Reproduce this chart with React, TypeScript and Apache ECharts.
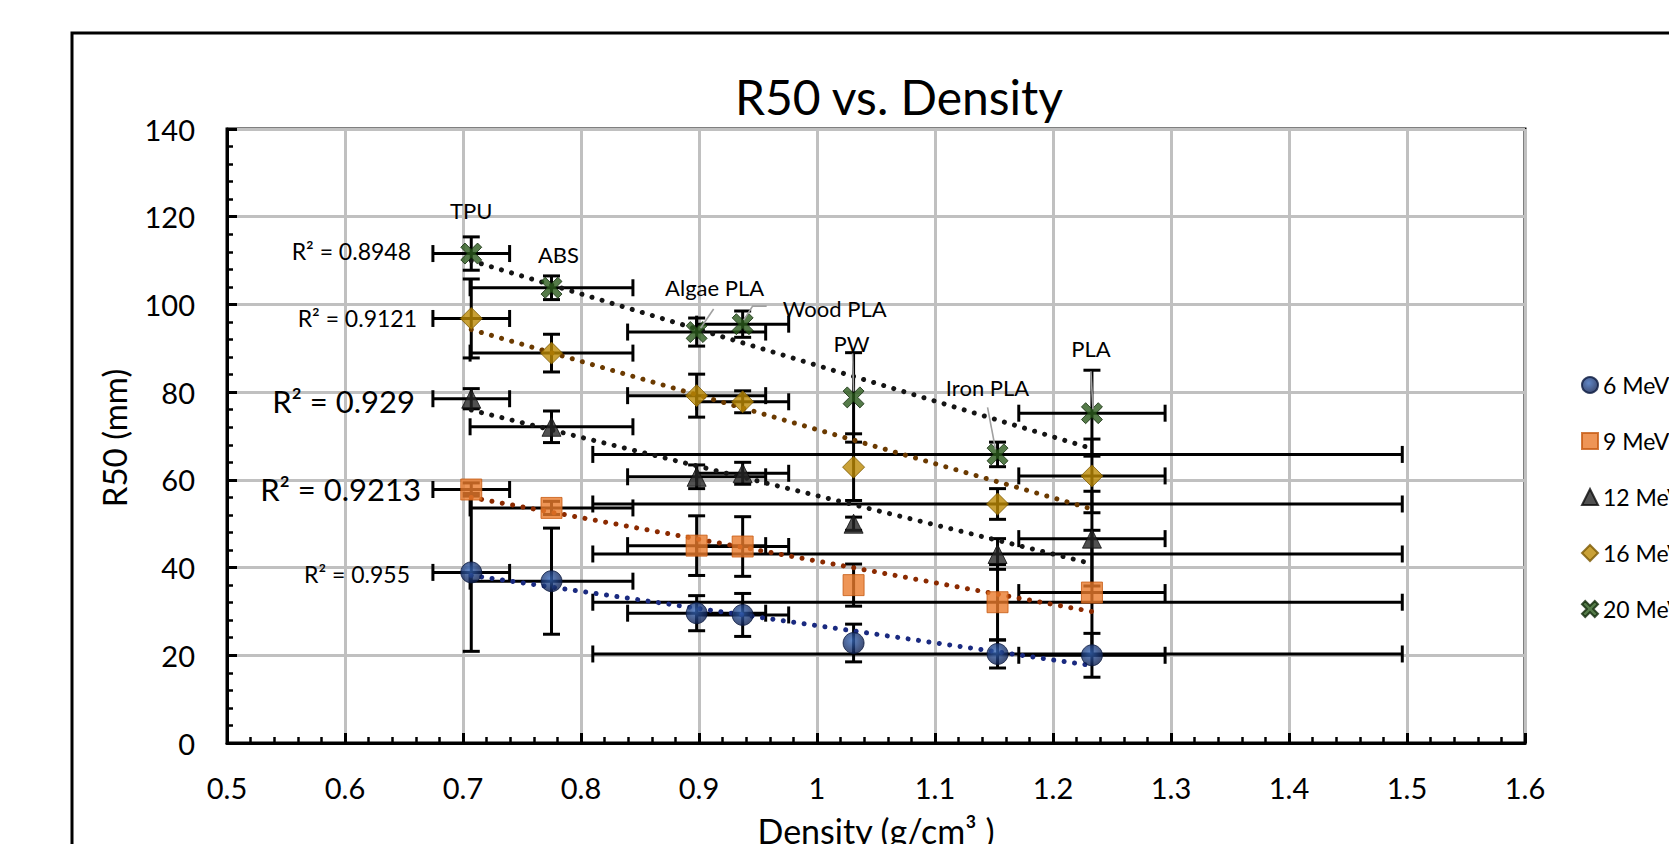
import React, { useEffect, useRef } from 'react';
import * as echarts from 'echarts';

// ---------- data ----------
const materials = ['TPU', 'ABS', 'Algae PLA', 'Wood PLA', 'PW', 'Iron PLA', 'PLA'];
const density = [0.707, 0.775, 0.898, 0.937, 1.031, 1.153, 1.233];
const densityErr = [0.0325, 0.069, 0.0585, 0.039, 0, 0.343, 0.062];

const energies = ['6 MeV', '9 MeV', '12 MeV', '16 MeV', '20 MeV'];

const r50_6MeV = [38.9, 36.9, 29.6, 29.2, 22.8, 20.3, 20.0];
const err_6MeV = [18, 12.1, 4, 4.9, 4.3, 3.2, 5];
const r50_9MeV = [57.8, 53.6, 45.0, 44.8, 36.0, 32.1, 34.3];
const err_9MeV = [1.5, 1.5, 6.8, 6.8, 4.8, 8.6, 14.2];
const r50_12MeV = [78.5, 72.1, 60.7, 61.5, 50.0, 43.1, 46.6];
const err_12MeV = [2.3, 3.6, 2.7, 2.5, 1.5, 3.5, 10.8];
const r50_16MeV = [96.8, 88.9, 79.2, 77.8, 62.9, 54.5, 60.9];
const err_16MeV = [9, 4.3, 4.9, 2.5, 7.6, 3.5, 8.4];
const r50_20MeV = [111.6, 103.8, 93.7, 95.5, 78.8, 65.8, 75.2];
const err_20MeV = [3.8, 2.7, 3.2, 3, 10.2, 2.8, 9.8];

const r2Texts = ['R² = 0.955', 'R² = 0.9213', 'R² = 0.929', 'R² = 0.9121', 'R² = 0.8948'];

const titleText = 'R50 vs. Density';
const xName = 'Density (g/cm³ )';
const yName = 'R50 (mm)';

// ---------- styles / layout ----------
const FONT = 'Lato';
const GRID = { left: 227, top: 129, width: 1298, height: 614 };

const X_CROSS = 'path://M2,0 L5,3 L8,0 L10,2 L7,5 L10,8 L8,10 L5,7 L2,10 L0,8 L3,5 L0,2 Z';

const markerSymbols = ['circle', 'rect', 'triangle', 'diamond', X_CROSS];
const markerSizes = [21, 21, 19, 22, 21];
const trendColors = ['#1a2a80', '#8b2a00', '#151515', '#6b3a00', '#141414'];

const r2Layout = [
  { x: 410, y: 574, size: 23 },
  { x: 421, y: 489, size: 31 },
  { x: 415, y: 401, size: 31 },
  { x: 417, y: 318, size: 23 },
  { x: 411, y: 251, size: 23 },
];

// label offsets (px) relative to the 20 MeV point of each material, with leader lines
const labelLayout: { dx: number; dy: number; line: number[][] | null }[] = [
  { dx: 0, dy: -43, line: null },
  { dx: 7, dy: -33, line: null },
  { dx: 18, dy: -45, line: [[4, -4], [17, -23]] },
  { dx: 92, dy: -16, line: [[24, -18], [10, -18], [1, -4]] },
  { dx: -2, dy: -54, line: [[-1, -44], [0, -6]] },
  { dx: -10, dy: -67, line: [[-10, -47], [-2, -5]] },
  { dx: -1, dy: -65, line: [[-1, -42], [1, -4]] },
];

function linFit(xs: number[], ys: number[]) {
  const n = xs.length;
  const mx = xs.reduce((a, b) => a + b, 0) / n;
  const my = ys.reduce((a, b) => a + b, 0) / n;
  let sxy = 0, sxx = 0;
  for (let i = 0; i < n; i++) {
    sxy += (xs[i] - mx) * (ys[i] - my);
    sxx += (xs[i] - mx) * (xs[i] - mx);
  }
  const b = sxy / sxx;
  const a = my - b * mx;
  return (x: number) => a + b * x;
}

export default function App() {
  const ref = useRef<HTMLDivElement>(null);

  useEffect(() => {
    const chart = echarts.init(ref.current!, null, { renderer: 'svg' });

    const values = [r50_6MeV, r50_9MeV, r50_12MeV, r50_16MeV, r50_20MeV];
    const errs = [err_6MeV, err_9MeV, err_12MeV, err_16MeV, err_20MeV];

    const markerStyles: any[] = [
      {
        color: new echarts.graphic.RadialGradient(0.42, 0.38, 0.62, [
          { offset: 0, color: '#3868b8' },
          { offset: 1, color: '#0f2152' },
        ]),
        borderColor: '#0b1a40',
        borderWidth: 1,
      },
      { color: '#ea7a2c', borderColor: '#c55a11', borderWidth: 1 },
      { color: '#262626', borderColor: '#0d0d0d', borderWidth: 1 },
      { color: '#bb8a05', borderColor: '#7a5800', borderWidth: 1 },
      { color: '#2a5a1c', borderColor: '#112a0b', borderWidth: 1 },
    ];

    const CAP = 8.5;
    const errStyle = { stroke: '#000', lineWidth: 3 };
    const renderErr = (params: any, api: any) => {
      const x = api.value(0);
      const y = api.value(1);
      const ex = api.value(2);
      const ey = api.value(3);
      const c = api.coord([x, y]);
      const children: any[] = [];
      if (ey > 0) {
        const t = api.coord([x, y + ey]);
        const b = api.coord([x, y - ey]);
        children.push({ type: 'line', shape: { x1: c[0], y1: t[1], x2: c[0], y2: b[1] }, style: errStyle });
        children.push({ type: 'line', shape: { x1: c[0] - CAP, y1: t[1], x2: c[0] + CAP, y2: t[1] }, style: errStyle });
        children.push({ type: 'line', shape: { x1: c[0] - CAP, y1: b[1], x2: c[0] + CAP, y2: b[1] }, style: errStyle });
      }
      if (ex > 0) {
        const l = api.coord([x - ex, y]);
        const r = api.coord([x + ex, y]);
        children.push({ type: 'line', shape: { x1: l[0], y1: c[1], x2: r[0], y2: c[1] }, style: errStyle });
        children.push({ type: 'line', shape: { x1: l[0], y1: c[1] - CAP, x2: l[0], y2: c[1] + CAP }, style: errStyle });
        children.push({ type: 'line', shape: { x1: r[0], y1: c[1] - CAP, x2: r[0], y2: c[1] + CAP }, style: errStyle });
      }
      return { type: 'group', children };
    };

    const series: any[] = [];
    energies.forEach((name, i) => {
      series.push({
        type: 'custom',
        name: name + ' error',
        z: 2,
        silent: true,
        renderItem: renderErr,
        encode: { x: 0, y: 1 },
        data: density.map((d, k) => [d, values[i][k], densityErr[k], errs[i][k]]),
      });
    });
    const xMin = Math.min(...density);
    const xMax = Math.max(...density);
    energies.forEach((name, i) => {
      const f = linFit(density, values[i]);
      series.push({
        type: 'line',
        name: name + ' trend',
        z: 3,
        silent: true,
        symbol: 'none',
        data: [[xMin, f(xMin)], [xMax, f(xMax)]],
        lineStyle: { color: trendColors[i], width: 5, type: [0.01, 10.5], cap: 'round' },
      });
    });
    energies.forEach((name, i) => {
      series.push({
        type: 'scatter',
        name,
        z: 4,
        symbol: markerSymbols[i],
        symbolSize: markerSizes[i],
        itemStyle: markerStyles[i],
        data: density.map((d, k) => [d, values[i][k]]),
      });
    });

    const axisCommon = {
      axisLine: { show: true, lineStyle: { color: '#000', width: 3 } },
      axisTick: { show: true, inside: true, length: 10, lineStyle: { color: '#000', width: 3 } },
      minorTick: { show: true, splitNumber: 5, length: 6, lineStyle: { color: '#000', width: 2.5 } },
      splitLine: { show: true, lineStyle: { color: '#c0c0c0', width: 3 } },
    };

    chart.setOption({
      animation: false,
      backgroundColor: '#fff',
      textStyle: { fontFamily: FONT },
      grid: { ...GRID, show: true, borderColor: '#000', borderWidth: 3, containLabel: false },
      xAxis: {
        type: 'value',
        min: 0.5,
        max: 1.6,
        interval: 0.1,
        ...axisCommon,
        axisLabel: { color: '#000', fontFamily: FONT, fontSize: 29, margin: 30 },
      },
      yAxis: {
        type: 'value',
        min: 0,
        max: 140,
        interval: 20,
        ...axisCommon,
        axisLabel: { color: '#000', fontFamily: FONT, fontSize: 29, margin: 32 },
      },
      legend: {
        orient: 'vertical',
        left: 1576,
        top: 368,
        itemWidth: 16,
        itemHeight: 16,
        itemGap: 32,
        selectedMode: false,
        data: energies,
        textStyle: { fontFamily: FONT, fontSize: 23, color: '#000', lineHeight: 24 },
      },
      series,
    });

    // annotations
    const g: any[] = [];
    g.push({
      type: 'rect',
      shape: { x: 72, y: 33, width: 1800, height: 1000 },
      style: { fill: 'none', stroke: '#000', lineWidth: 3 },
      z: 100,
      silent: true,
    });
    g.push({
      type: 'text',
      x: 899,
      y: 96,
      style: { text: titleText, fill: '#000', fontFamily: FONT, fontSize: 48, align: 'center', verticalAlign: 'middle', textAlign: 'center', textVerticalAlign: 'middle' },
    });
    g.push({
      type: 'text',
      x: 876,
      y: 830,
      style: { text: xName, fill: '#000', fontFamily: FONT, fontSize: 34, align: 'center', verticalAlign: 'middle', textAlign: 'center', textVerticalAlign: 'middle' },
    });
    g.push({
      type: 'text',
      x: 114,
      y: 438,
      rotation: Math.PI / 2,
      style: { text: yName, fill: '#000', fontFamily: FONT, fontSize: 33, align: 'center', verticalAlign: 'middle', textAlign: 'center', textVerticalAlign: 'middle' },
    });
    r2Texts.forEach((t, i) => {
      const L = r2Layout[i];
      g.push({
        type: 'text',
        x: L.x,
        y: L.y,
        z: 50,
        style: { text: t, fill: '#000', fontFamily: FONT, fontSize: L.size, align: 'right', verticalAlign: 'middle', textAlign: 'right', textVerticalAlign: 'middle' },
      });
    });
    materials.forEach((m, k) => {
      const p = chart.convertToPixel({ gridIndex: 0 }, [density[k], r50_20MeV[k]]) as number[];
      const L = labelLayout[k];
      if (L.line) {
        g.push({
          type: 'polyline',
          z: 40,
          shape: { points: L.line.map((q) => [p[0] + q[0], p[1] + q[1]]) },
          style: { stroke: '#a0a0a0', lineWidth: 1.6, fill: 'none' },
        });
      }
      g.push({
        type: 'text',
        x: p[0] + L.dx,
        y: p[1] + L.dy,
        z: 50,
        style: { text: m, fill: '#000', fontFamily: FONT, fontSize: 22, align: 'center', verticalAlign: 'middle', textAlign: 'center', textVerticalAlign: 'middle' },
      });
    });
    chart.setOption({ graphic: g });

    return () => chart.dispose();
  }, []);

  return (
    <div
      ref={ref}
      style={{ position: 'fixed', left: 0, top: 0, width: 1669, height: 844, background: '#fff' }}
    />
  );
}
